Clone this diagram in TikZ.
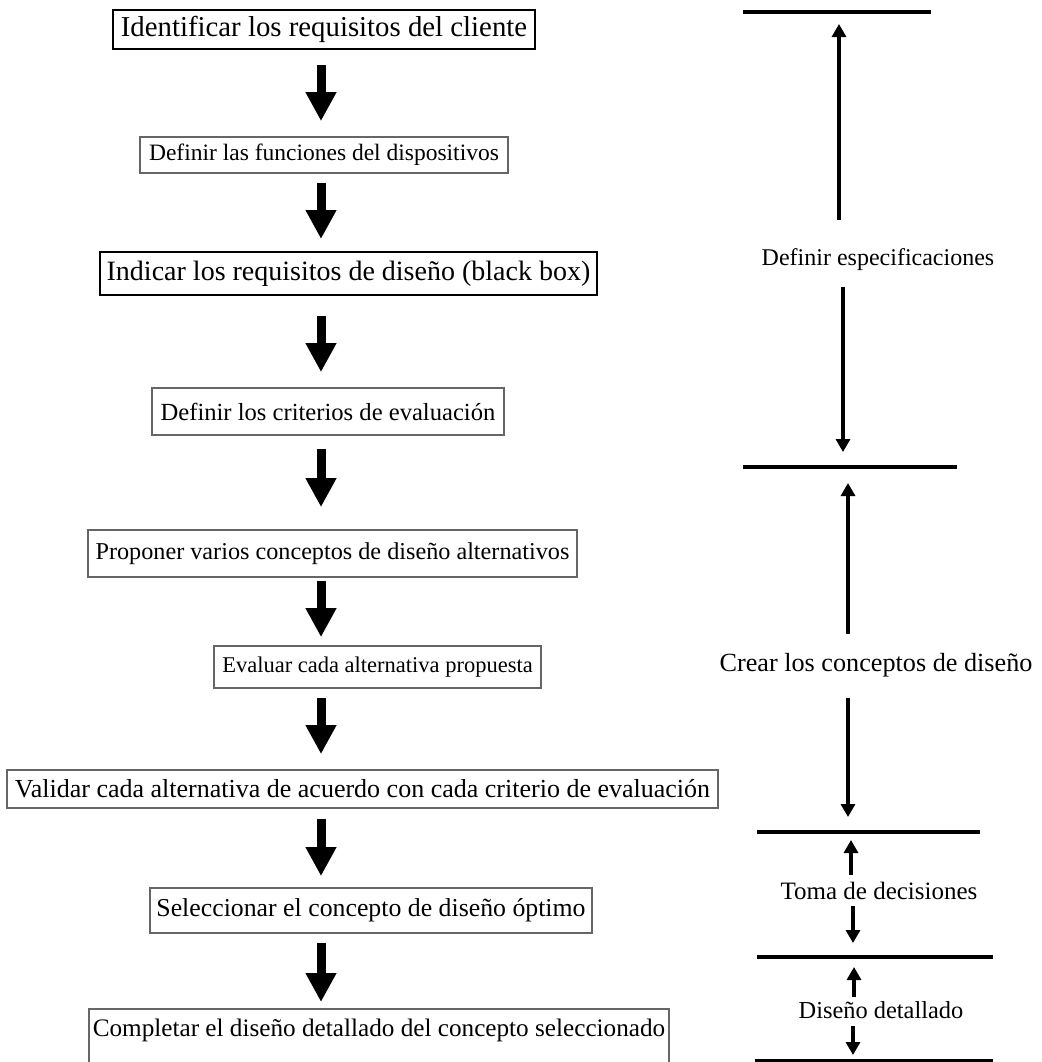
\documentclass[tikz,border=0pt]{standalone}
\usepackage{fontspec}
\setmainfont{Liberation Serif}
\usetikzlibrary{arrows.meta}
\newcommand{\fsz}[1]{\fontsize{#1}{#1}\selectfont}
\tikzset{
  stepbox/.style={draw=black!60, line width=0.9pt, inner xsep=2pt, inner ysep=3pt},
  mainbox/.style={draw=black, line width=1pt, inner xsep=2pt, inner ysep=3pt},
  bigarrow/.style={-{Triangle[width=14.5pt,length=14.5pt]}, line width=4.5pt},
  phasearrow/.style={-{Triangle[width=7pt,length=6.5pt]}, line width=1.6pt},
  phasebar/.style={line width=2pt},
  phaselabel/.style={inner sep=0pt}
}
\begin{document}
\begin{tikzpicture}
    [x=0.5pt, y=-0.5pt]
    \useasboundingbox (0,0) rectangle (1042,1062);
    % pasos del proceso
    \node[mainbox, minimum width=211pt, minimum height=19.5pt, font=\fsz{14.4pt}] (b1) at (324,29.5) {Identificar los requisitos del cliente};
    \node[stepbox, minimum width=184pt, minimum height=18pt, font=\fsz{11.75pt}] (b2) at (324,155) {Definir las funciones del dispositivos};
    \node[mainbox, minimum width=248.5pt, minimum height=21.5pt, font=\fsz{14pt}] (b3) at (348.5,273.5) {Indicar los requisitos de diseño (black box)};
    \node[stepbox, minimum width=176pt, minimum height=23.5pt, font=\fsz{12.3pt}] (b4) at (328,411.5) {Definir los criterios de evaluación};
    \node[stepbox, minimum width=244.5pt, minimum height=23.5pt, font=\fsz{12.1pt}] (b5) at (332.5,553.5) {Proponer varios conceptos de diseño alternativos};
    \node[stepbox, minimum width=163.5pt, minimum height=21pt, font=\fsz{11.25pt}] (b6) at (377.5,667) {Evaluar cada alternativa propuesta};
    \node[stepbox, minimum width=355.5pt, minimum height=19pt, font=\fsz{13pt}] (b7) at (362.5,789) {Validar cada alternativa de acuerdo con cada criterio de evaluación};
    \node[stepbox, minimum width=221pt, minimum height=22.5pt, font=\fsz{12.9pt}] (b8) at (371,910.5) {Seleccionar el concepto de diseño óptimo};
    \node[stepbox, anchor=north, minimum width=289pt, text height=11pt, text depth=30pt, font=\fsz{12.6pt}] (b9) at (379,1008) {Completar el diseño detallado del concepto seleccionado};
    \coordinate (axis) at (321,0);
    \draw[bigarrow, shorten <=7.5pt, shorten >=7.5pt] (b1.south -| axis) -- (b2.north -| axis);
    \draw[bigarrow, shorten <=4.5pt, shorten >=6pt] (b2.south -| axis) -- (b3.north -| axis);
    \draw[bigarrow, shorten <=10pt, shorten >=7.5pt] (b3.south -| axis) -- (b4.north -| axis);
    \draw[bigarrow, shorten <=6.5pt, shorten >=11pt] (b4.south -| axis) -- (b5.north -| axis);
    \draw[bigarrow, shorten <=1.5pt, shorten >=4pt] (b5.south -| axis) -- (b6.north -| axis);
    \draw[bigarrow, shorten <=4.5pt, shorten >=7.5pt] (b6.south -| axis) -- (b7.north -| axis);
    \draw[bigarrow, shorten <=5pt, shorten >=5.5pt] (b7.south -| axis) -- (b8.north -| axis);
    \draw[bigarrow, shorten <=4.5pt, shorten >=3pt] (b8.south -| axis) -- (b9.north -| axis);
    % fases
    \coordinate (r1w) at (743,12);   \coordinate (r1e) at (931,12);
    \coordinate (r2w) at (743,467);  \coordinate (r2e) at (957,467);
    \coordinate (r3w) at (757,832);  \coordinate (r3e) at (980,832);
    \coordinate (r4w) at (757,957);  \coordinate (r4e) at (993,957);
    \coordinate (r5w) at (755,1061); \coordinate (r5e) at (993,1061);
    \draw[phasebar] (r1w) -- (r1e);
    \draw[phasebar] (r2w) -- (r2e);
    \draw[phasebar] (r3w) -- (r3e);
    \draw[phasebar] (r4w) -- (r4e);
    \draw[phasebar] (r5w) -- (r5e);
    \node[phaselabel, font=\fsz{12pt}] (l1) at (878,260) {Definir especificaciones};
    \node[phaselabel, font=\fsz{13.1pt}] (l2) at (876,665) {Crear los conceptos de diseño};
    \node[phaselabel, font=\fsz{12.5pt}] (l3) at (879,891) {Toma de decisiones};
    \node[phaselabel, font=\fsz{12.2pt}] (l4) at (881,1010) {Diseño detallado};
    \draw[phasearrow, shorten <=14.5pt, shorten >=6pt] ([xshift=-19.5pt]l1.north) -- ([xshift=-19.5pt]l1.north |- r1w);
    \draw[phasearrow, shorten <=8pt, shorten >=7.5pt] ([xshift=-17.5pt]l1.south) -- ([xshift=-17.5pt]l1.south |- r2w);
    \draw[phasearrow, shorten <=9.5pt, shorten >=8pt] ([xshift=-14pt]l2.north) -- ([xshift=-14pt]l2.north |- r2w);
    \draw[phasearrow, shorten <=10.5pt, shorten >=7.5pt] ([xshift=-14pt]l2.south) -- ([xshift=-14pt]l2.south |- r3w);
    \draw[phasearrow, shorten <=3.5pt, shorten >=4pt] ([xshift=-14pt]l3.north) -- ([xshift=-14pt]l3.north |- r3w);
    \draw[phasearrow, shorten <=3pt, shorten >=7pt] ([xshift=-13pt]l3.south) -- ([xshift=-13pt]l3.south |- r4w);
    \draw[phasearrow, shorten <=2pt, shorten >=5pt] ([xshift=-13.5pt]l4.north) -- ([xshift=-13.5pt]l4.north |- r4w);
    \draw[phasearrow, shorten <=3.5pt, shorten >=3pt] ([xshift=-14pt]l4.south) -- ([xshift=-14pt]l4.south |- r5w);
\end{tikzpicture}
\end{document}
